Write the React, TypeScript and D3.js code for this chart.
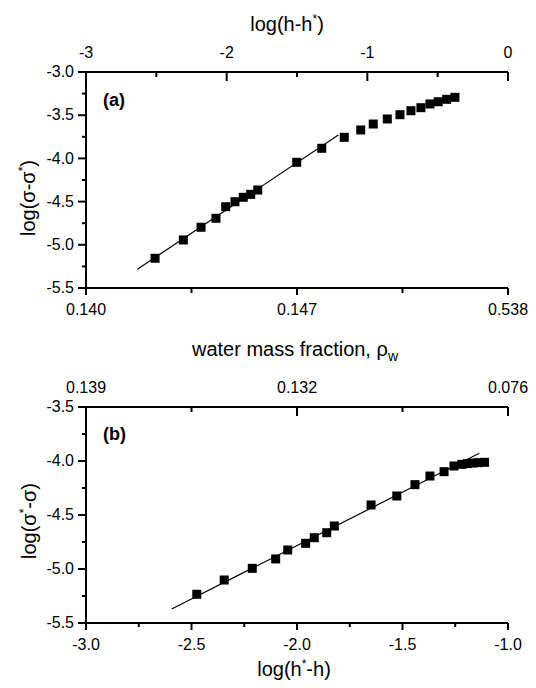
import React, { useRef, useEffect } from "react";
import * as d3 from "d3";

// panel (a): log(h-h*) vs log(sigma-sigma*)
const topX = [-2.509, -2.308, -2.182, -2.076, -2.007, -1.941, -1.882, -1.829, -1.779, -1.502, -1.324,
  -1.164, -1.047, -0.958, -0.858, -0.768, -0.69, -0.619, -0.555, -0.496, -0.436, -0.377];
const topY = [-5.156, -4.944, -4.797, -4.693, -4.559, -4.501, -4.45, -4.416, -4.366, -4.045, -3.883,
  -3.756, -3.671, -3.602, -3.544, -3.494, -3.448, -3.413, -3.37, -3.344, -3.316, -3.293];
const topFitX = [-2.635, -1.206];
const topFitY = [-5.284, -3.729];

// panel (b): log(h*-h) vs log(sigma*-sigma)
const botX = [-2.475, -2.345, -2.212, -2.101, -2.044, -1.959, -1.918, -1.859, -1.823, -1.649, -1.527,
  -1.441, -1.37, -1.303, -1.256, -1.218, -1.192, -1.166, -1.14, -1.111];
const botY = [-5.234, -5.102, -4.994, -4.907, -4.824, -4.762, -4.71, -4.664, -4.602, -4.407, -4.324,
  -4.219, -4.139, -4.099, -4.046, -4.031, -4.024, -4.019, -4.015, -4.012];
const botFitX = [-2.594, -1.136];
const botFitY = [-5.37, -3.929];

const topUpperTicks = [-3, -2, -1, 0];
const topLowerLabels = ["0.140", "", "0.147", "", "0.538"];
const botUpperLabels = ["0.139", "", "0.132", "", "0.076"];

const FONT = "'Liberation Sans', Arial, sans-serif";
const LEFT = 86;
const RIGHT = 508;

function styleAxis(g: any) {
  g.attr("font-size", 16).attr("font-family", FONT).style("color", "#000");
  g.selectAll("path, line").attr("stroke-width", 2);
}

function Panel({ top, bottom, yDomain, xDomain, xMajor, xMinor, yMajor, yMinor, upperLabels, upperNumeric, lowerLabels, xs, ys, fitX, fitY }: any) {
  const ref = useRef<SVGGElement>(null);

  useEffect(() => {
    const g = d3.select(ref.current);
    g.selectAll("*").remove();

    const x = d3.scaleLinear().domain(xDomain).range([LEFT, RIGHT]);
    const y = d3.scaleLinear().domain(yDomain).range([bottom, top]);
    const idx = d3.scaleLinear().domain([0, 4]).range([LEFT, RIGHT]);
    const fmt1 = (d: any) => (+d).toFixed(1);

    // left axis
    g.append("g").attr("transform", `translate(${LEFT},0)`)
      .call(d3.axisLeft(y).offset(0).tickValues(yMinor).tickSize(4).tickSizeOuter(0).tickFormat(() => ""))
      .call(styleAxis);
    g.append("g").attr("transform", `translate(${LEFT},0)`)
      .call(d3.axisLeft(y).offset(0).tickValues(yMajor).tickSize(8).tickPadding(4).tickSizeOuter(0).tickFormat(fmt1))
      .call(styleAxis);

    // bottom axis
    if (lowerLabels) {
      g.append("g").attr("transform", `translate(0,${bottom})`)
        .call(d3.axisBottom(idx).offset(0).tickValues([1, 3]).tickSize(5).tickSizeOuter(0).tickFormat(() => ""))
        .call(styleAxis);
      g.append("g").attr("transform", `translate(0,${bottom})`)
        .call(d3.axisBottom(idx).offset(0).tickValues([0, 2, 4]).tickSize(7).tickPadding(9).tickSizeOuter(0)
          .tickFormat((d: any) => lowerLabels[d]))
        .call(styleAxis);
    } else {
      g.append("g").attr("transform", `translate(0,${bottom})`)
        .call(d3.axisBottom(x).offset(0).tickValues(xMinor).tickSize(4).tickSizeOuter(0).tickFormat(() => ""))
        .call(styleAxis);
      g.append("g").attr("transform", `translate(0,${bottom})`)
        .call(d3.axisBottom(x).offset(0).tickValues(xMajor).tickSize(7).tickPadding(9).tickSizeOuter(0).tickFormat(fmt1))
        .call(styleAxis);
    }

    // top axis, ticks pointing into the plot
    if (upperNumeric) {
      g.append("g").attr("transform", `translate(0,${top})`)
        .call(d3.axisTop(x).offset(0).tickValues(xMinor).tickSize(-5).tickSizeOuter(0).tickFormat(() => ""))
        .call(styleAxis);
      g.append("g").attr("transform", `translate(0,${top})`)
        .call(d3.axisTop(x).offset(0).tickValues(upperNumeric).tickSize(-9).tickPadding(14).tickSizeOuter(0)
          .tickFormat((d: any) => String(d)))
        .call(styleAxis);
    } else {
      g.append("g").attr("transform", `translate(0,${top})`)
        .call(d3.axisTop(idx).offset(0).tickValues([1, 3]).tickSize(-5).tickSizeOuter(0).tickFormat(() => ""))
        .call(styleAxis);
      g.append("g").attr("transform", `translate(0,${top})`)
        .call(d3.axisTop(idx).offset(0).tickValues([0, 2, 4]).tickSize(-9).tickPadding(14).tickSizeOuter(0)
          .tickFormat((d: any) => upperLabels[d]))
        .call(styleAxis);
    }

    // fit line
    const ln = d3.line<number>().x((d, i) => x(fitX[i])).y((d) => y(d));
    g.append("path").attr("d", ln(fitY)).attr("fill", "none").attr("stroke", "#000").attr("stroke-width", 1.2);

    // squares
    const s = 9;
    g.selectAll(".pt").data(xs).join("rect")
      .attr("x", (d: any) => x(d) - s / 2)
      .attr("y", (d: any, i: number) => y(ys[i]) - s / 2)
      .attr("width", s).attr("height", s).attr("fill", "#000");
  }, []);

  return <g ref={ref} />;
}

export default function App() {
  const yMajA = d3.range(-5.5, -2.99, 0.5);
  const yMinA = d3.range(-5.25, -3.0, 0.5);
  const yMajB = d3.range(-5.5, -3.49, 0.5);
  const yMinB = d3.range(-5.25, -3.5, 0.5);
  return (
    <svg width={536} height={688} style={{ position: "absolute", left: 0, top: 0, background: "#fff" }}
      fontFamily={FONT}>
      <Panel top={72} bottom={288} yDomain={[-5.5, -3]} xDomain={[-3, 0]}
        xMinor={[-2.5, -1.5, -0.5]} yMajor={yMajA} yMinor={yMinA}
        upperNumeric={topUpperTicks} lowerLabels={topLowerLabels}
        xs={topX} ys={topY} fitX={topFitX} fitY={topFitY} />
      <Panel top={407} bottom={623} yDomain={[-5.5, -3.5]} xDomain={[-3, -1]}
        xMajor={d3.range(-3, -0.99, 0.5)} xMinor={d3.range(-2.75, -1, 0.5)}
        yMajor={yMajB} yMinor={yMinB} upperLabels={botUpperLabels}
        xs={botX} ys={botY} fitX={botFitX} fitY={botFitY} />

      <text x={287} y={31} fontSize={20} textAnchor="middle">
        log(h-h<tspan dy="-8" fontSize={12}>*</tspan><tspan dy="8">)</tspan>
      </text>
      <text transform="translate(28,198) rotate(-90)" fontSize={20} textAnchor="middle" dy="0.35em">
        log(σ-σ<tspan dy="-8" fontSize={12}>*</tspan><tspan dy="8">)</tspan>
      </text>
      <text x={103} y={106} fontSize={18} fontWeight="bold">(a)</text>

      <text x={295} y={356} fontSize={20} textAnchor="middle">
        water mass fraction, ρ<tspan dy="5" fontSize={14}>w</tspan>
      </text>

      <text transform="translate(29,521) rotate(-90)" fontSize={20} textAnchor="middle" dy="0.35em">
        log(σ<tspan dy="-8" fontSize={12}>*</tspan><tspan dy="8">-σ)</tspan>
      </text>
      <text x={103} y={440} fontSize={18} fontWeight="bold">(b)</text>
      <text x={294} y={676} fontSize={20} textAnchor="middle">
        log(h<tspan dy="-8" fontSize={12}>*</tspan><tspan dy="8">-h)</tspan>
      </text>
    </svg>
  );
}
